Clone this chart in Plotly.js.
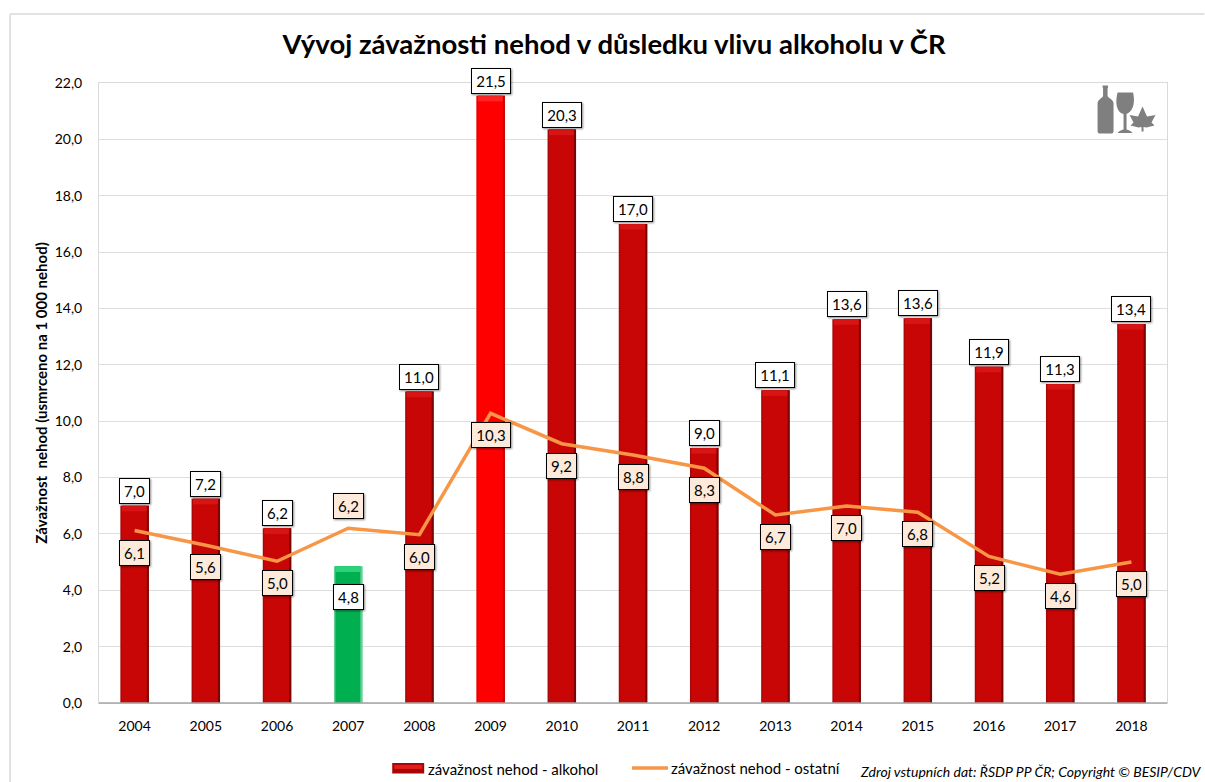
<!DOCTYPE html>
<html><head><meta charset="utf-8">
<script src="https://cdn.plot.ly/plotly-3.0.1.min.js"></script>
<style>
html,body{margin:0;padding:0;background:#fff;overflow:hidden}
#c{width:1205px;height:782px}
.annotation .bg{filter:drop-shadow(1px 1px 1px rgba(0,0,0,.45))}
</style></head><body><div id="c"></div>
<script>
const years=['2004','2005','2006','2007','2008','2009','2010','2011','2012','2013','2014','2015','2016','2017','2018'];
const alcohol=[7.0,7.25,6.2,4.85,11.05,21.55,20.35,17.0,9.05,11.1,13.62,13.65,11.93,11.32,13.45];
const other=[6.12,5.6,5.03,6.2,5.97,10.28,9.2,8.8,8.33,6.67,6.99,6.77,5.2,4.57,5.0];
const alcoholLabels=['7,0','7,2','6,2','4,8','11,0','21,5','20,3','17,0','9,0','11,1','13,6','13,6','11,9','11,3','13,4'];
const otherLabels=['6,1','5,6','5,0','6,2','6,0','10,3','9,2','8,8','8,3','6,7','7,0','6,8','5,2','4,6','5,0'];
const titleText='Vývoj závažnosti nehod v důsledku vlivu alkoholu v ČR';
const yTitle='Závažnost  nehod (usmrceno na 1 000 nehod)';
const sourceText='Zdroj vstupních dat: ŘSDP PP ČR; Copyright © BESIP/CDV';
const legendNames=['závažnost nehod - alkohol','závažnost nehod - ostatní'];

const W=1205,H=782,L=98.5,R=1167.5,T=82.5,B=703;
const px=x=>(x-L)/(R-L), py=y=>(B-y)/(B-T);
const FONT='Lato, Carlito, sans-serif';
const pick=(i,red,bright,green)=>i===5?bright:i===3?green:red;
const edgeL=years.map((_,i)=>pick(i,'#a80808','#e40000','#63cf95'));
const edgeR=years.map((_,i)=>pick(i,'#7c0404','#c80000','#63cf95'));
const face=years.map((_,i)=>pick(i,'#c80606','#ff0000','#00b050'));
const top_=years.map((_,i)=>pick(i,'#d81414','#ff2424','#2fd27c'));
const common={type:'bar',x:years,showlegend:false,hoverinfo:'skip'};
const traces=[
 {...common,y:alcohol,width:0.40,marker:{color:edgeL}},
 {...common,y:alcohol,width:0.03,offset:0.17,marker:{color:edgeR}},
 {...common,y:alcohol,width:0.35,offset:-0.18,marker:{color:face}},
 {...common,y:alcohol.map(()=>0.2),base:alcohol.map(v=>v-0.2),width:0.35,offset:-0.18,marker:{color:top_}},
 {type:'scatter',mode:'lines',x:years,y:other,name:legendNames[1],showlegend:false,
  line:{color:'#f79646',width:3.5,shape:'linear'}}
];
const boxW=s=>s.length>3?40:31;
const label=(i,y,text,shift,bg)=>({x:i,y,text,xref:'x',yref:'y',showarrow:false,yshift:shift,
  bgcolor:bg,bordercolor:'#000',borderwidth:1,borderpad:1,width:boxW(text)-4,height:22,
  font:{family:FONT,size:15,color:'#000'},xanchor:'center',yanchor:'middle'});
const ann=[];
years.forEach((yr,i)=>ann.push(label(i,alcohol[i],alcoholLabels[i],i===3?-31:15,'#ffffff')));
years.forEach((yr,i)=>ann.push(label(i,other[i],otherLabels[i],i===3?22:-22,'#fdeada')));
const paperText=(x,y,text,font,extra)=>({xref:'paper',yref:'paper',x:px(x),y:py(y),text,showarrow:false,
  xanchor:'left',yanchor:'middle',font:{family:FONT,color:'#000',...font},...extra});
ann.push(paperText(426,769,legendNames[0],{size:15}));
ann.push(paperText(669,768,legendNames[1],{size:15}));
ann.push(paperText(858,771.5,'<i>'+sourceText+'</i>',{size:14}));

const rect=(x0,y0,x1,y1,fill,line)=>({type:'rect',xref:'paper',yref:'paper',x0:px(x0),x1:px(x1),y0:py(y0),y1:py(y1),
  fillcolor:fill,line:line||{width:0},layer:'above'});
const seg=(x0,y0,x1,y1,color,width)=>({type:'line',xref:'paper',yref:'paper',x0:px(x0),x1:px(x1),y0:py(y0),y1:py(y1),
  line:{color,width},layer:'above'});
const shapes=[
 seg(9.5,13.5,1205,13.5,'#d9d9d9',1.5),
 seg(9.5,13.5,9.5,782,'#d9d9d9',1.5),
 seg(98.5,703,R,703,'#a6a6a6',1.5),
 rect(392,763,424,773.5,'#a80505'),
 rect(394,765,422,769,'#e41c1c'),
 seg(632,768,668,768,'#f79646',3.5)
];
const icon='<svg xmlns="http://www.w3.org/2000/svg" viewBox="0 0 65 50" width="65" height="50"><g fill="#7f7f7f">'+
 '<path d="M8 1h5.5v2l-.5 .5V11c0 2.5 6 3.5 6 8V47a2 2 0 0 1-2 2H5a2 2 0 0 1-2-2V19c0-4.500 5.500-5.500 5.500-8V3.500L8 3z"/>'+
 '<path d="M23 8h15.500c1.500 6 1.500 13-2 18c-1.500 2-3.500 3-4.500 3.500V45c2 .8 5 1.500 6 3.500H23c1-2 4-2.700 6-3.500V29.500C27 29 25 28 24 26c-3-5-2.500-12-1-18z"/>'+
 '<path d="M48 22L52.500 32L61 30.500L57 38L60 41L52 43L49 42.500L49 47L47 47L47 42.500L44 43L36 41L39 38L35 30.500L43.500 32Z"/>'+
 '</g></svg>';
const layout={
 width:W,height:H,paper_bgcolor:'#fff',plot_bgcolor:'#fff',separators:', ',
 margin:{l:L,r:W-R,t:T,b:H-B,pad:0},barmode:'overlay',showlegend:false,
 font:{family:FONT,color:'#000'},
 title:{text:'<b>'+titleText+'</b>',font:{family:FONT,size:27.5,color:'#000'},x:px(614),xref:'paper',xanchor:'center',y:1-44/H,yanchor:'middle'},
 xaxis:{type:'category',range:[-0.5,14.5],showgrid:false,ticks:'',tickfont:{size:14,family:FONT},showline:true,linecolor:'#d9d9d9',linewidth:1,mirror:true,ticklabelstandoff:10,zeroline:false,fixedrange:true},
 yaxis:{range:[0,22],dtick:2,tick0:0,tickformat:'.1f',gridcolor:'#dedede',gridwidth:1,tickfont:{size:14,family:FONT},ticks:'',showline:true,linecolor:'#d9d9d9',linewidth:1,mirror:true,zeroline:false,ticklabelstandoff:13,fixedrange:true,
  title:{text:'<b>'+yTitle+'</b>',font:{size:15,family:FONT,color:'#000'},standoff:3}},
 annotations:ann,shapes,
 images:[{source:'data:image/svg+xml;utf8,'+encodeURIComponent(icon),xref:'paper',yref:'paper',x:px(1095),y:py(84),sizex:65/(R-L),sizey:50/(B-T),xanchor:'left',yanchor:'top',sizing:'stretch',layer:'above'}]
};
Plotly.newPlot('c',traces,layout,{displayModeBar:false,staticPlot:true});
</script></body></html>
